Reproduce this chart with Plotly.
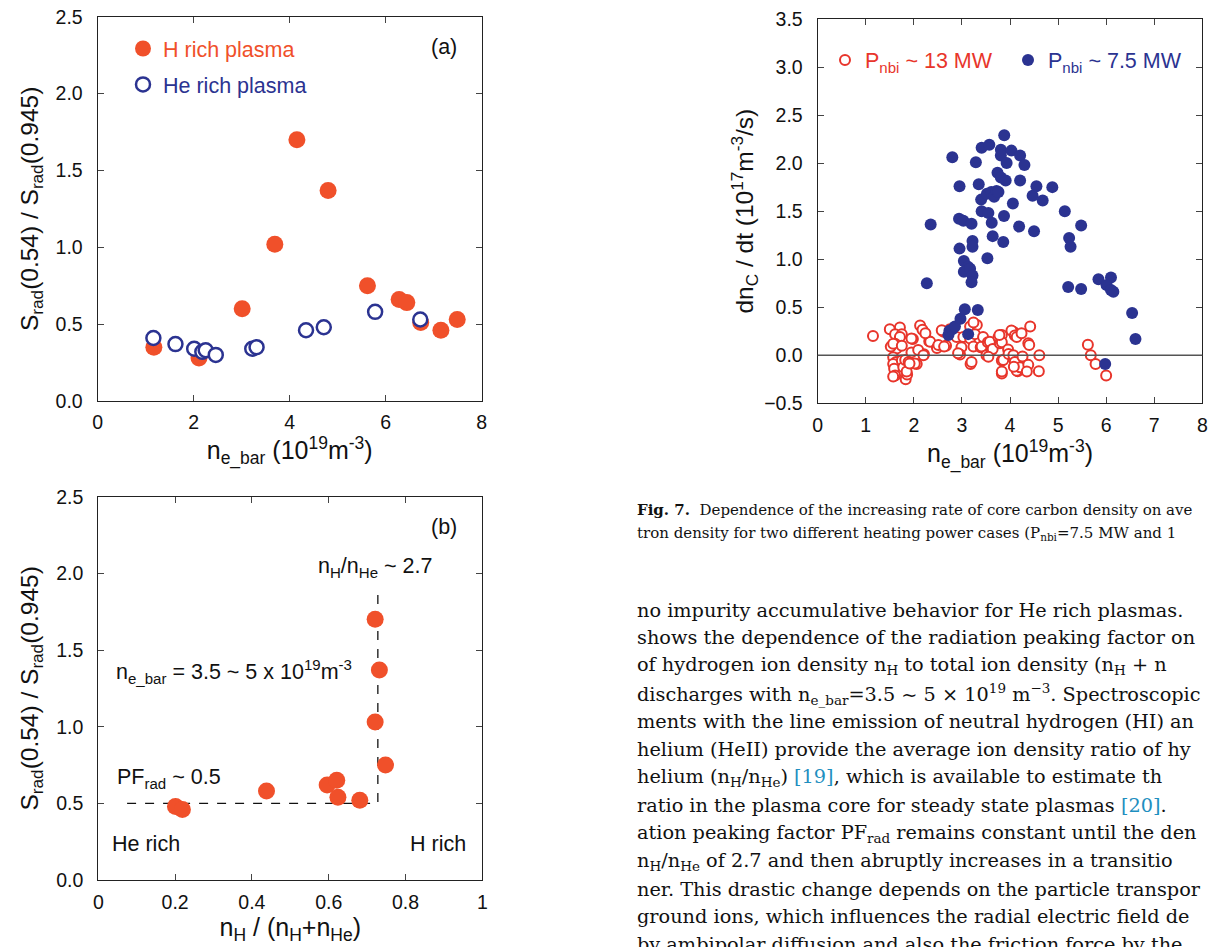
import plotly.graph_objects as go

# ---------------- data ----------------
# (a) radiation peaking factor vs line-averaged density
a_h_x = [1.17, 2.11, 3.01, 3.69, 4.15, 4.80, 5.62, 6.28, 6.44, 6.73, 7.15, 7.49]
a_h_y = [0.35, 0.28, 0.60, 1.02, 1.70, 1.37, 0.75, 0.66, 0.64, 0.51, 0.46, 0.53]
a_he_x = [1.16, 1.62, 2.01, 2.18, 2.25, 2.46, 3.22, 3.31, 4.34, 4.71, 5.78, 6.72]
a_he_y = [0.41, 0.37, 0.34, 0.32, 0.33, 0.30, 0.34, 0.35, 0.46, 0.48, 0.58, 0.53]

# (b) peaking factor vs hydrogen fraction
b_x = [0.201, 0.219, 0.438, 0.596, 0.621, 0.624, 0.681, 0.721, 0.732, 0.721, 0.748]
b_y = [0.48, 0.46, 0.58, 0.62, 0.65, 0.54, 0.52, 1.70, 1.37, 1.03, 0.75]
b_guide_x = [0.075, 0.728, 0.728]
b_guide_y = [0.5, 0.5, 1.90]

# (c) dn_C/dt vs density
c_13_x = [1.15, 1.50, 1.71, 1.61, 1.75, 1.71, 1.61, 1.64, 1.52, 1.57, 1.57, 1.63, 1.57, 1.59,
          1.61, 1.57, 1.83, 1.75, 1.78, 1.86, 1.85, 1.82, 1.98, 1.95, 1.95, 2.06, 1.89, 2.13,
          2.18, 2.21, 2.09, 2.32, 2.34, 2.48, 2.61, 2.67, 2.51, 2.63, 2.75, 2.89, 2.99, 2.96,
          2.92, 3.03, 3.17, 3.17, 3.31, 3.24, 3.27, 3.24, 3.39, 3.41, 3.44, 3.18, 3.20, 3.51,
          3.54, 3.58, 3.62, 3.64, 3.76, 3.79, 3.83, 3.83, 3.83, 3.86, 3.83, 3.83, 3.96, 3.97,
          4.07, 4.07, 4.03, 4.10, 4.14, 4.10, 4.16, 4.14, 4.21, 4.26, 4.38, 4.40, 4.42, 4.38,
          4.35, 4.61, 4.60, 5.62, 5.68, 5.78, 6.00, 2.20, 2.02, 1.91, 1.75, 2.58, 2.24, 4.24,
          4.08, 3.78, 3.55]
c_13_y = [0.20, 0.27, 0.29, 0.22, 0.22, 0.19, 0.12, 0.07, 0.09, 0.12, -0.02, -0.07, -0.09, -0.14,
          -0.21, -0.22, -0.25, -0.055, -0.125, -0.20, -0.17, -0.05, 0.17, 0.175, 0.03, -0.09, -0.07, 0.31,
          0.265, 0.01, 0.055, 0.146, 0.14, 0.076, 0.246, 0.10, 0.106, 0.09, 0.27, 0.19, 0.083, 0.007,
          0.02, 0.19, 0.175, 0.30, 0.314, 0.34, 0.22, 0.09, 0.083, 0.09, 0.19, -0.09, -0.07, 0.0,
          0.135, 0.14, 0.054, 0.066, 0.188, 0.124, 0.21, 0.135, -0.055, -0.05, -0.19, -0.17, 0.06, 0.014,
          0.0, 0.245, 0.257, 0.205, 0.19, -0.07, -0.167, -0.16, -0.125, -0.014, 0.124, 0.108, 0.30, -0.10,
          -0.17, 0.0, -0.167, 0.11, 0.0, -0.09, -0.21, 0.0, -0.085, -0.085, 0.10, 0.26, 0.23, 0.23,
          -0.12, 0.21, -0.015]
c_75_x = [2.27, 2.35, 2.80, 2.72, 2.74, 2.80, 2.855, 2.97, 3.06, 3.13, 3.33,
          2.95, 2.94, 3.03, 2.95, 3.04, 3.13, 3.04, 3.17, 3.22, 3.20, 3.20, 3.22, 3.22,
          3.29, 3.35, 3.41, 3.57, 3.40, 3.41, 3.55, 3.62, 3.53, 3.64,
          3.52, 3.61, 3.67, 3.72, 3.76, 3.74, 3.81, 3.91, 3.88, 3.81, 3.81, 3.93, 3.875, 3.86,
          4.03, 4.06, 4.21, 4.21, 4.19, 4.30, 4.47, 4.55, 4.50, 4.68, 4.88,
          5.14, 5.23, 5.26, 5.48, 5.21, 5.48, 5.84, 6.10, 6.01, 6.10, 6.15, 6.54, 6.61, 5.98]
c_75_y = [0.75, 1.36, 2.06, 0.21, 0.255, 0.27, 0.30, 0.38, 0.48, 0.22, 0.47,
          1.76, 1.42, 1.40, 1.11, 0.98, 0.92, 0.87, 0.90, 0.83, 0.76, 1.37, 1.19, 1.13,
          2.01, 1.78, 2.16, 2.19, 1.62, 1.50, 1.48, 1.38, 1.01, 1.24,
          1.68, 1.70, 1.65, 1.71, 1.70, 1.90, 1.85, 1.82, 2.29, 2.14, 2.08, 2.00, 1.45, 1.18,
          2.13, 1.58, 2.08, 1.82, 1.34, 1.98, 1.66, 1.76, 1.29, 1.61, 1.75,
          1.50, 1.22, 1.13, 1.35, 0.71, 0.69, 0.79, 0.81, 0.73, 0.68, 0.66, 0.44, 0.17, -0.09]

ORANGE = "#F0502A"
NAVY = "#2B3391"
RED = "#E8352B"
LINK = "#1F8FC0"
SANS = "Liberation Sans, Arial, Helvetica, sans-serif"
SERIF = "DejaVu Serif, serif"

W, H = 1210, 947


def px_x(p):
    return p / W


def px_y(p):
    return 1 - p / H


fig = go.Figure()

# ----- (a)
fig.add_trace(go.Scatter(x=a_h_x, y=a_h_y, mode="markers", xaxis="x", yaxis="y",
                         name=f'<span style="color:{ORANGE}">H rich plasma</span>',
                         legend="legend", legendgroup="h",
                         marker=dict(size=17, color=ORANGE, line=dict(width=0))))
fig.add_trace(go.Scatter(x=a_he_x, y=a_he_y, mode="markers", xaxis="x", yaxis="y",
                         name=f'<span style="color:{NAVY}">He rich plasma</span>',
                         legend="legend", legendgroup="he",
                         marker=dict(size=14, color="white", line=dict(width=2.5, color=NAVY))))

# ----- (b)
fig.add_trace(go.Scatter(x=b_guide_x, y=b_guide_y, mode="lines", xaxis="x2", yaxis="y2",
                         showlegend=False, line=dict(color="#111", width=1.3, dash="dash")))
fig.add_trace(go.Scatter(x=b_x, y=b_y, mode="markers", xaxis="x2", yaxis="y2", showlegend=False,
                         marker=dict(size=17, color=ORANGE, line=dict(width=0))))

# ----- (c)
fig.add_trace(go.Scatter(x=c_13_x, y=c_13_y, mode="markers", xaxis="x3", yaxis="y3",
                         name=f'<span style="color:{RED}">P<sub>nbi</sub> ~ 13 MW</span>',
                         legend="legend2",
                         marker=dict(size=10, color="white", line=dict(width=2, color=RED))))
fig.add_trace(go.Scatter(x=c_75_x, y=c_75_y, mode="markers", xaxis="x3", yaxis="y3",
                         name=f'<span style="color:{NAVY}">P<sub>nbi</sub> ~ 7.5 MW</span>',
                         legend="legend2",
                         marker=dict(size=12, color=NAVY, line=dict(width=0))))

axis_common = dict(showline=True, mirror="ticks", linecolor="#222", linewidth=1.2,
                   ticks="inside", ticklen=6, tickwidth=1, tickcolor="#444",
                   showgrid=False, zeroline=False, automargin=False,
                   tickfont=dict(family=SANS, size=19.5, color="#111"))
xt_font = dict(family=SANS, size=25, color="#111")
yt_font = dict(family=SANS, size=24.5, color="#111")

fig.update_layout(
    width=W, height=H, margin=dict(l=0, r=0, t=0, b=0),
    paper_bgcolor="white", plot_bgcolor="white",
    font=dict(family=SANS, color="#111"),
    hovermode=False,
    xaxis=dict(axis_common, domain=[px_x(97.7), px_x(481.7)], range=[0, 8], dtick=2, ticklabelstandoff=3,
               title=dict(text="n<sub>e_bar</sub> (10<sup>19</sup>m<sup>-3</sup>)", font=xt_font, standoff=5),
               anchor="y"),
    yaxis=dict(axis_common, domain=[px_y(401), px_y(16.7)], range=[0, 2.5], dtick=0.5, tickformat=".1f",
               ticklabelstandoff=10,
               title=dict(text="S<sub>rad</sub>(0.54) / S<sub>rad</sub>(0.945)", font=yt_font, standoff=10),
               anchor="x"),
    xaxis2=dict(axis_common, domain=[px_x(98.3), px_x(482.3)], range=[0, 1], dtick=0.2, ticklabelstandoff=4,
                title=dict(text="n<sub>H</sub> / (n<sub>H</sub>+n<sub>He</sub>)", font=xt_font, standoff=5),
                anchor="y2"),
    yaxis2=dict(axis_common, domain=[px_y(880), px_y(496.7)], range=[0, 2.5], dtick=0.5, tickformat=".1f",
                ticklabelstandoff=10,
                title=dict(text="S<sub>rad</sub>(0.54) / S<sub>rad</sub>(0.945)", font=yt_font, standoff=10),
                anchor="x2"),
    xaxis3=dict(axis_common, domain=[px_x(817.7), px_x(1202.3)], range=[0, 8], dtick=1, ticklabelstandoff=4,
                title=dict(text="n<sub>e_bar</sub> (10<sup>19</sup>m<sup>-3</sup>)", font=xt_font, standoff=8),
                anchor="y3"),
    yaxis3=dict(axis_common, domain=[px_y(403.3), px_y(19)], range=[-0.5, 3.5], dtick=0.5, tickformat=".1f",
                ticklabelstandoff=10,
                title=dict(text="dn<sub>C</sub> / dt (10<sup>17</sup>m<sup>-3</sup>/s)", font=yt_font, standoff=3),
                anchor="x3"),
    legend=dict(x=px_x(123), y=px_y(28), xanchor="left", yanchor="top",
                bgcolor="rgba(0,0,0,0)", font=dict(family=SANS, size=21.5),
                tracegroupgap=5, itemsizing="trace"),
    legend2=dict(x=px_x(825), y=px_y(60), xanchor="left", yanchor="middle",
                 orientation="h", bgcolor="rgba(0,0,0,0)", font=dict(family=SANS, size=21.5),
                 entrywidth=138, entrywidthmode="pixels"),
    showlegend=True,
)

# zero line in (c)
fig.add_shape(type="line", xref="x3 domain", yref="y3", x0=0, x1=1, y0=0, y1=0,
              line=dict(color="#555", width=1.3))

ann_font = dict(family=SANS, size=21.5, color="#111")
fig.add_annotation(x=7.21, y=2.30, xref="x", yref="y", text="(a)", showarrow=False, font=ann_font)
fig.add_annotation(x=0.90, y=2.30, xref="x2", yref="y2", text="(b)", showarrow=False, font=ann_font)
fig.add_annotation(x=0.567, y=2.04, xref="x2", yref="y2", text="n<sub>H</sub>/n<sub>He</sub> ~ 2.7",
                   showarrow=False, xanchor="left", font=ann_font)
fig.add_annotation(x=0.041, y=1.36, xref="x2", yref="y2",
                   text="n<sub>e_bar</sub> = 3.5 ~ 5 x 10<sup>19</sup>m<sup>-3</sup>",
                   showarrow=False, xanchor="left", font=ann_font)
fig.add_annotation(x=0.044, y=0.66, xref="x2", yref="y2", text="PF<sub>rad</sub> ~ 0.5",
                   showarrow=False, xanchor="left", font=ann_font)
fig.add_annotation(x=0.03, y=0.235, xref="x2", yref="y2", text="He rich",
                   showarrow=False, xanchor="left", font=ann_font)
fig.add_annotation(x=0.963, y=0.235, xref="x2", yref="y2", text="H rich",
                   showarrow=False, xanchor="right", font=ann_font)

# caption + body text (right part of the page is cropped in the source)
cap_font = dict(family=SERIF, size=15, color="#111")
fig.add_annotation(x=px_x(635), y=px_y(510), xref="paper", yref="paper", xanchor="left", yanchor="middle",
                   showarrow=False, font=cap_font,
                   text="<b>Fig. 7.</b>  Dependence of the increasing rate of core carbon density on ave")
fig.add_annotation(x=px_x(635), y=px_y(533), xref="paper", yref="paper", xanchor="left", yanchor="middle",
                   showarrow=False, font=cap_font,
                   text="tron density for two different heating power cases (P<sub>nbi</sub>=7.5 MW and 1")

body_lines = [
    "no impurity accumulative behavior for He rich plasmas.",
    "shows the dependence of the radiation peaking factor on",
    "of hydrogen ion density n<sub>H</sub> to total ion density (n<sub>H</sub> + n",
    "discharges with n<sub>e_bar</sub>=3.5 ~ 5 × 10<sup>19</sup> m<sup>−3</sup>. Spectroscopic",
    "ments with the line emission of neutral hydrogen (HI) an",
    "helium (HeII) provide the average ion density ratio of hy",
    f"helium (n<sub>H</sub>/n<sub>He</sub>) <span style=\"color:{LINK}\">[19]</span>, which is available to estimate th",
    f"ratio in the plasma core for steady state plasmas <span style=\"color:{LINK}\">[20]</span>.",
    "ation peaking factor PF<sub>rad</sub> remains constant until the den",
    "n<sub>H</sub>/n<sub>He</sub> of 2.7 and then abruptly increases in a transitio",
    "ner. This drastic change depends on the particle transpor",
    "ground ions, which influences the radial electric field de",
    "by ambipolar diffusion and also the friction force by the",
]
body_font = dict(family=SERIF, size=19.3, color="#111")
for i, line in enumerate(body_lines):
    fig.add_annotation(x=px_x(635), y=px_y(610 + 27.9 * i), xref="paper", yref="paper",
                       xanchor="left", yanchor="middle", showarrow=False, font=body_font, text=line)

fig.write_html("out.html", config={"displayModeBar": False})
